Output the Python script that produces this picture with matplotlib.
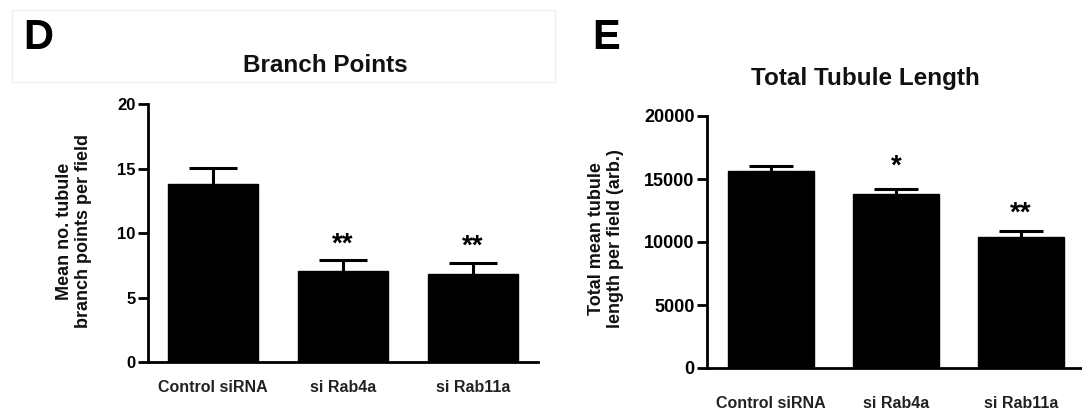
import matplotlib
matplotlib.use("Agg")
import matplotlib.pyplot as plt
from matplotlib.patches import Rectangle

plt.rcParams['font.family'] = ['Liberation Sans', 'DejaVu Sans']
plt.rcParams['font.weight'] = 'bold'

# data
groups = ["Control siRNA", "si Rab4a", "si Rab11a"]

branch_mean = [13.8, 7.05, 6.85]
branch_sem = [1.25, 0.85, 0.8]
branch_stars = ["", "**", "**"]
branch_star_y = [None, 9.1, 8.95]

length_mean = [15600, 13780, 10400]
length_sem = [450, 440, 480]
length_stars = ["", "*", "**"]
length_star_y = [None, 16000, 12250]

W, H = 1082, 415
fig = plt.figure(figsize=(W / 100, H / 100), dpi=100)


def px_axes(x0, x1, y_top, y_bot):
    return fig.add_axes([x0 / W, 1 - y_bot / H, (x1 - x0) / W, (y_bot - y_top) / H])


def draw_panel(ax, means, sems, stars, star_y, ylim, yticks, capsize, xlim, label_pad, tick_fs):
    x = list(range(len(groups)))
    ax.errorbar(x, means, yerr=sems, fmt='none', ecolor='black', elinewidth=2.2,
                capsize=capsize, capthick=2.2, zorder=1)
    ax.bar(x, means, width=0.69, color='black', edgecolor='black', zorder=2)
    for xi, s, sy in zip(x, stars, star_y):
        if s:
            ax.text(xi, sy, s, ha='center', va='center', fontsize=20, fontweight='bold')
    ax.set_xlim(*xlim)
    ax.set_ylim(*ylim)
    ax.set_yticks(yticks)
    ax.set_yticklabels([str(v) for v in yticks], fontsize=tick_fs, fontweight='bold')
    ax.set_xticks(x)
    ax.set_xticklabels(groups, fontsize=11.5, fontweight='bold', color='#222222')
    ax.tick_params(axis='x', which='major', length=0, pad=label_pad)
    ax.set_xticks([1], minor=True)
    ax.tick_params(axis='x', which='minor', length=7, width=2)
    ax.tick_params(axis='y', length=7, width=2, pad=2)
    for side in ['top', 'right']:
        ax.spines[side].set_visible(False)
    for side in ['left', 'bottom']:
        ax.spines[side].set_linewidth(2)


# faint scan border around the left header
fig.add_artist(Rectangle((12 / W, 1 - 82 / H), (555 - 12) / W, 72 / H, transform=fig.transFigure,
                         fill=False, edgecolor='#f0f0f0', linewidth=1))

# panel D
ax1 = px_axes(148, 538, 104, 362)
draw_panel(ax1, branch_mean, branch_sem, branch_stars, branch_star_y,
           (0, 20), [0, 5, 10, 15, 20], 17, (-0.5, 2.5), 13, 12)
fig.text(38 / W, 1 - 38 / H, "D", fontsize=30, fontweight='bold', ha='center', va='center')
fig.text(325 / W, 1 - 66 / H, "Branch Points", fontsize=17.5, fontweight='bold', ha='center', va='center',
         color='#111111')
fig.text(74 / W, 1 - 231 / H, "Mean no. tubule\nbranch points per field", rotation=90,
         fontsize=13, fontweight='bold', ha='center', va='center', multialignment='center',
         linespacing=1.1, color='#111111')

# panel E
ax2 = px_axes(707, 1082, 116, 368)
draw_panel(ax2, length_mean, length_sem, length_stars, length_star_y,
           (0, 20000), [0, 5000, 10000, 15000, 20000], 16, (-0.512, 2.488), 20, 13)
fig.text(606 / W, 1 - 38 / H, "E", fontsize=30, fontweight='bold', ha='center', va='center')
fig.text(865 / W, 1 - 79 / H, "Total Tubule Length", fontsize=17.5, fontweight='bold', ha='center', va='center',
         color='#111111')
fig.text(606 / W, 1 - 239 / H, "Total mean tubule\nlength per field (arb.)", rotation=90,
         fontsize=13, fontweight='bold', ha='center', va='center', multialignment='center',
         linespacing=1.1, color='#111111')

fig.savefig("out.png", dpi=100)
